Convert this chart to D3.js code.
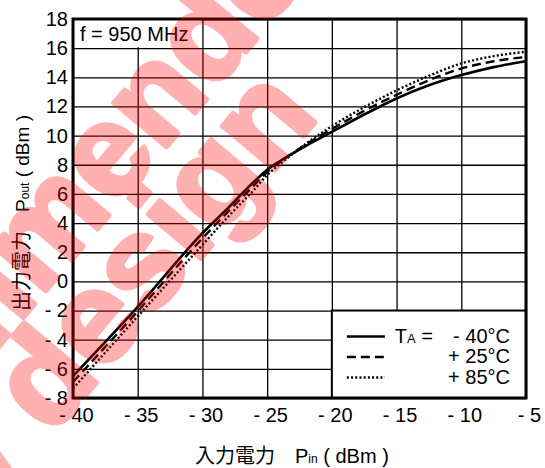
<!DOCTYPE html>
<html lang="ja">
<head>
<meta charset="UTF-8">
<title>Pout vs Pin</title>
<script src="https://cdn.jsdelivr.net/npm/d3@7"></script>
<style>
  body { margin: 0; background: #fff; }
  svg { display: block; font-family: "Liberation Sans", Arial, sans-serif; }
  .cjk { font-family: "Noto Sans CJK JP", sans-serif; }
</style>
</head>
<body>
<div id="chart"></div>
<script>
// input power (dBm) and output power for the three temperatures
var pin     = [-40, -35, -30, -28, -26, -25, -24, -22, -20, -17.5, -15, -12.5, -10, -7.5, -5];
var poutM40 = [-6.5, -1.75, 3.3, 5.05, 6.85, 7.65, 8.25, 9.3, 10.25, 11.45, 12.55, 13.45, 14.15, 14.7, 15.1];
var pout25  = [-6.9, -2.05, 2.95, 4.8, 6.6, 7.5, 8.2, 9.4, 10.45, 11.7, 12.8, 13.8, 14.6, 15.1, 15.4];
var pout85  = [-7.35, -2.4, 2.5, 4.45, 6.3, 7.3, 8.05, 9.45, 10.65, 11.95, 13.1, 14.1, 14.95, 15.45, 15.75];

var xTicks = [-40, -35, -30, -25, -20, -15, -10, -5];
var yTicks = [-8, -6, -4, -2, 0, 2, 4, 6, 8, 10, 12, 14, 16, 18];
var legendTemps = ["- 40°C", "+ 25°C", "+ 85°C"];
var dashes = [null, "9,5", "2,2.2"];

var margin = { top: 19, left: 73, right: 19, bottom: 70 };
var width = 545 - margin.left - margin.right;
var height = 468 - margin.top - margin.bottom;

var root = d3.select("#chart").append("svg")
    .attr("width", 545)
    .attr("height", 468);

var svg = root.append("g")
    .attr("transform", "translate(" + margin.left + "," + margin.top + ")");

var x = d3.scaleLinear().domain([-40, -5]).range([0, width]);
var y = d3.scaleLinear().domain([-8, 18]).range([height, 0]);

function fmt(v) { return v < 0 ? "- " + Math.abs(v) : String(v); }

// grid
svg.append("g")
    .call(d3.axisBottom(x).tickValues(xTicks).tickSize(height).tickFormat(""))
    .call(function (g) { g.select(".domain").remove(); })
    .selectAll("line").attr("stroke", "#000").attr("stroke-width", 1.3);
svg.append("g")
    .call(d3.axisLeft(y).tickValues(yTicks).tickSize(-width).tickFormat(""))
    .call(function (g) { g.select(".domain").remove(); })
    .selectAll("line").attr("stroke", "#000").attr("stroke-width", 1.3);

// tick labels
svg.append("g")
    .attr("transform", "translate(0," + height + ")")
    .call(d3.axisBottom(x).tickValues(xTicks).tickSize(0).tickPadding(10).tickFormat(fmt))
    .call(function (g) { g.select(".domain").remove(); })
    .selectAll("text")
    .attr("dx", 3)
    .attr("fill", "#000")
    .style("font-size", "20px")
    .style("font-family", "Liberation Sans, Arial, sans-serif");
svg.append("g")
    .call(d3.axisLeft(y).tickValues(yTicks).tickSize(0).tickPadding(5).tickFormat(fmt))
    .call(function (g) { g.select(".domain").remove(); })
    .selectAll("text")
    .attr("fill", "#000")
    .style("font-size", "20px")
    .style("font-family", "Liberation Sans, Arial, sans-serif");

// frequency label box
svg.append("rect")
    .attr("x", x(-40) + 1).attr("y", y(18) + 1)
    .attr("width", x(-30) - x(-40) - 2).attr("height", y(16) - y(18) - 2)
    .attr("fill", "#fff");
svg.append("text")
    .attr("x", x(-40) + 7).attr("y", y(16) - 7)
    .style("font-size", "20px")
    .text("f = 950 MHz");

// curves
var series = [poutM40, pout25, pout85];
var line = d3.line()
    .x(function (d) { return x(d[0]); })
    .y(function (d) { return y(d[1]); })
    .curve(d3.curveMonotoneX);

[2, 1, 0].forEach(function (i) {
    svg.append("path")
        .datum(pin.map(function (p, k) { return [p, series[i][k]]; }))
        .attr("fill", "none")
        .attr("stroke", "#000")
        .attr("stroke-width", i == 0 ? 2.6 : 2.4)
        .attr("stroke-dasharray", dashes[i])
        .attr("d", line);
});

// legend
var lx = x(-20), ly = y(-2);
svg.append("rect")
    .attr("x", lx).attr("y", ly)
    .attr("width", x(-5) - lx).attr("height", y(-8) - ly)
    .attr("fill", "#fff").attr("stroke", "#000").attr("stroke-width", 2);

legendTemps.forEach(function (t, i) {
    var rowY = ly + 26 + i * 20.5;
    svg.append("line")
        .attr("x1", lx + 15).attr("x2", lx + 53)
        .attr("y1", rowY).attr("y2", rowY)
        .attr("stroke", "#000").attr("stroke-width", i == 0 ? 2.6 : 2.4)
        .attr("stroke-dasharray", dashes[i]);
    svg.append("text")
        .attr("x", x(-5) - 16).attr("y", rowY + 6)
        .attr("text-anchor", "end")
        .style("font-size", "20px")
        .text(t);
});
var ta = svg.append("text")
    .attr("x", lx + 63).attr("y", ly + 32)
    .style("font-size", "20px");
ta.append("tspan").text("T");
ta.append("tspan").style("font-size", "13px").text("A");
ta.append("tspan").text(" =");

// axis titles
var yt = root.append("text")
    .attr("transform", "translate(29,213) rotate(-90)")
    .attr("text-anchor", "middle")
    .style("font-size", "19px");
yt.append("tspan").attr("class", "cjk").style("font-size", "20px").text("出力電力");
yt.append("tspan").text("\u2003P");
yt.append("tspan").style("font-size", "12px").text("out");
yt.append("tspan").text(" ( dBm )");

var xt = root.append("text")
    .attr("x", 195).attr("y", 463)
    .style("font-size", "20px");
xt.append("tspan").attr("class", "cjk").text("入力電力");
xt.append("tspan").text("\u2003P");
xt.append("tspan").style("font-size", "12px").text("in");
xt.append("tspan").text("  ( dBm )");

// frame
svg.append("rect")
    .attr("width", width).attr("height", height)
    .attr("fill", "none").attr("stroke", "#000").attr("stroke-width", 3);

// watermark (group opacity so fill and stroke blend once)
var wm = root.append("g")
    .attr("transform", "rotate(-50)")
    .attr("opacity", 0.3)
    .attr("fill", "#ff0000")
    .attr("stroke", "#ff0000")
    .attr("stroke-width", 5)
    .attr("stroke-linejoin", "round")
    .style("font-size", "130px")
    .style("font-weight", "bold");
wm.append("text").attr("x", 296).attr("y", 222).attr("text-anchor", "end").text("Not recommended");
wm.append("text").attr("x", 117).attr("y", 320).attr("text-anchor", "end").text("for new design");
</script>
</body>
</html>
